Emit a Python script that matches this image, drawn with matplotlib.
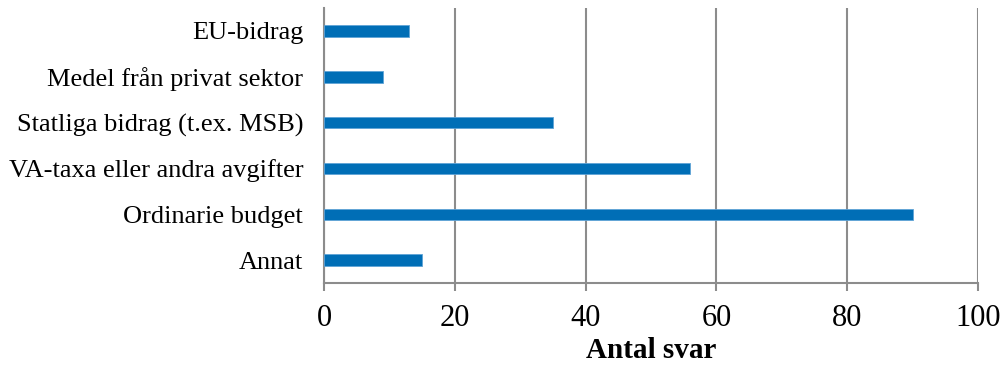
import matplotlib
matplotlib.use("Agg")
import matplotlib.pyplot as plt
import numpy as np

categories = ["EU-bidrag", "Medel från privat sektor", "Statliga bidrag (t.ex. MSB)",
              "VA-taxa eller andra avgifter", "Ordinarie budget", "Annat"]
values = [13, 9, 35, 56, 90, 15]
xticks = [0, 20, 40, 60, 80, 100]
xlabel = "Antal svar"

plt.rcParams['font.family'] = ['Liberation Serif', 'DejaVu Serif']

fig = plt.figure(figsize=(10.01, 3.67), dpi=100)
ax = fig.add_axes([0.3237, 0.229, 0.6533, 0.749])

y = np.arange(len(categories))[::-1]
ax.barh(y, values, height=0.25, color='#006EB6', edgecolor='#5FA3D6', linewidth=0.6, zorder=3)

ax.set_xlim(0, 100)
ax.set_ylim(-0.5, len(categories) - 0.5)
ax.set_xticks(xticks)
ax.set_xticklabels([str(t) for t in xticks], fontsize=22)
ax.set_yticks(y)
ax.set_yticklabels(categories, fontsize=19)
ax.tick_params(axis='y', length=0, pad=15)
ax.tick_params(axis='x', length=6, width=1.5, color='#8c8c8c', pad=9)

ax.grid(axis='x', color='#8c8c8c', linewidth=1.5, zorder=0)
for s in ['top', 'right']:
    ax.spines[s].set_visible(False)
for s in ['left', 'bottom']:
    ax.spines[s].set_color('#8c8c8c')
    ax.spines[s].set_linewidth(1.5)

ax.set_xlabel(xlabel, fontsize=21, fontweight='bold', labelpad=3)

fig.savefig("out.png", dpi=100)
